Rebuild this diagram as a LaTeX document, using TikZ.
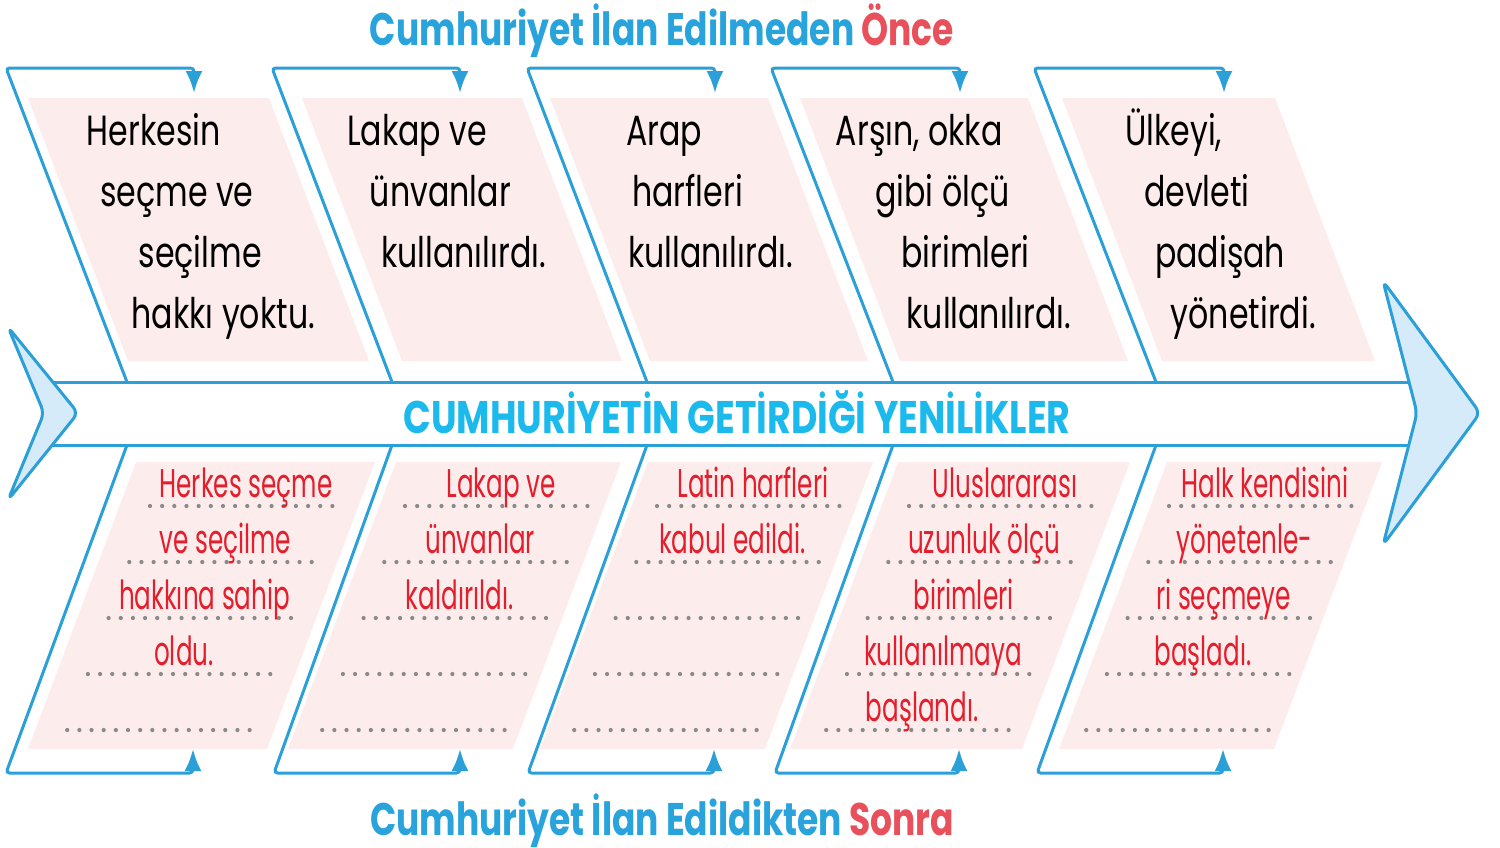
\documentclass[tikz,border=0pt]{standalone}
\usepackage{fontspec}
\setmainfont{Poppins}
\newfontfamily\handfont[FakeStretch=0.75]{Poppins}
\newfontfamily\answerfont[FakeStretch=0.615]{Poppins}
\newfontfamily\headfont[FakeStretch=0.755]{Poppins}
\newfontfamily\spinefont[FakeStretch=0.795]{Poppins}
\usepackage{tikz}
\usetikzlibrary{arrows.meta,calc}
\definecolor{bonecol}{HTML}{2A9FD8}
\definecolor{headfill}{HTML}{D6EBF9}
\definecolor{panelpink}{HTML}{FDECEC}
\definecolor{titleblue}{HTML}{29A3DC}
\definecolor{titlered}{HTML}{E8505B}
\definecolor{spinecyan}{HTML}{1BB9EC}
\definecolor{answerred}{HTML}{E31E2D}
\definecolor{dotgray}{HTML}{8A8A8A}

\begin{document}
\begin{tikzpicture}[
  x=0.1mm,y=-0.1mm,
  bone/.style={draw=bonecol,line width=0.85pt},
  bonearrow/.style={bone,rounded corners=1pt,-{Latex[length=2.2mm,width=1.7mm]}},
  panel/.style={fill=panelpink},
  fishend/.style={draw=bonecol,fill=headfill,line width=0.85pt,line join=round},
  question/.style={font=\handfont\fontsize{12}{14}\selectfont,anchor=base,inner sep=0pt},
  answer/.style={font=\answerfont\fontsize{11.4}{13}\selectfont,text=answerred,anchor=base,inner sep=0pt},
  dots/.style={dotgray,line width=1.2pt,line cap=round,dash pattern=on 0pt off 3.46pt}
]
  \useasboundingbox (0,0) rectangle (1500,847);

  % pink panels, top row and bottom row
  \foreach \l/\r in {28/269,302/522,550/768,800/1028,1062/1275}
    \fill[panel] (\l,98) -- (\r,98) -- (\r+100,361) -- (\l+100,361) -- cycle;
  \foreach \l/\r in {136/375,396/621,648/873,898/1130,1167/1382}
    \fill[panel] (\l,462) -- (\r,462) -- (\r-108,749) -- (\l-108,749) -- cycle;

  % bones with their arrows
  \foreach \b/\t/\a [count=\p] in {127/6/194,392/272/460,647/527/715,893/771/960,1156/1034/1224}{
    \coordinate (ub\p) at (\b,382);
    \coordinate (ut\p) at (\t,68);
    \coordinate (uc\p) at (\a,68);
    \coordinate (ue\p) at (\a,93);
    \draw[bonearrow] (ub\p) -- (ut\p) -- (uc\p) -- (ue\p);
  }
  \foreach \b/\t/\a [count=\p] in {127/6/193,392/274/460,647/528/714,893/775/959,1156/1037/1223}{
    \coordinate (lb\p) at (\b,445);
    \coordinate (lt\p) at (\t,773);
    \coordinate (lc\p) at (\a,773);
    \coordinate (le\p) at (\a,749);
    \draw[bonearrow] (lb\p) -- (lt\p) -- (lc\p) -- (le\p);
  }

  % spine, tail and head
  \draw[bone] (50,382) -- (1412,382) (50,445) -- (1412,445);
  \draw[fishend,rounded corners=2pt] (8,327) -- (78,413) -- (8,500) -- (44,413) -- cycle;
  \draw[fishend,rounded corners=2pt] (1383,281) -- (1480,413) -- (1383,545) -- (1417,413) -- cycle;
  \node[font=\spinefont\bfseries\fontsize{13}{15}\selectfont,text=spinecyan,anchor=base,inner sep=0pt]
    (spine) at (737,433) {CUMHURİYETİN GETİRDİĞİ YENİLİKLER};

  % titles
  \node[font=\headfont\bfseries\fontsize{13}{15}\selectfont,text=titleblue,anchor=base,inner sep=0pt]
    (before) at (662,45) {Cumhuriyet İlan Edilmeden \textcolor{titlered}{Önce}};
  \node[font=\headfont\bfseries\fontsize{13}{15}\selectfont,text=titleblue,anchor=base,inner sep=0pt]
    (after) at (662,835) {Cumhuriyet İlan Edildikten \textcolor{titlered}{Sonra}};

  % before: black text
  \foreach \c/\lines [count=\p] in {148.5/{Herkesin,seçme ve,seçilme,hakkı yoktu.},
      412/{Lakap ve,ünvanlar,kullanılırdı.},
      659/{Arap,harfleri,kullanılırdı.},
      914/{{Arşın, okka},gibi ölçü,birimleri,kullanılırdı.},
      1168.5/{{Ülkeyi,},devleti,padişah,yönetirdi.}}
    \foreach \t [count=\k] in \lines
      \node[question] (q\p-\k) at ({\c+5.2+23.2*(\k-1)},{145+61*(\k-1)}) {\t};

  % after: dotted lines and red answers
  \foreach \d/\lines [count=\p] in {243/{Herkes seçme,ve seçilme,hakkına sahip,oldu.},
      498/{Lakap ve,ünvanlar,kaldırıldı.},
      750/{Latin harfleri,kabul edildi.},
      1002/{Uluslararası,uzunluk ölçü,birimleri,kullanılmaya,başlandı.},
      1262/{Halk kendisini,yönetenle-,ri seçmeye,başladı.}}{
    \foreach \k in {1,...,5}
      \draw[dots] ({\d-93-20.7*(\k-1)},{506+56*(\k-1)}) -- ({\d+93-20.7*(\k-1)},{506+56*(\k-1)});
    \foreach \t [count=\k] in \lines
      \node[answer] (a\p-\k) at ({\d+3-20.7*(\k-1)},{497+56*(\k-1)}) {\t};
  }
\end{tikzpicture}
\end{document}
